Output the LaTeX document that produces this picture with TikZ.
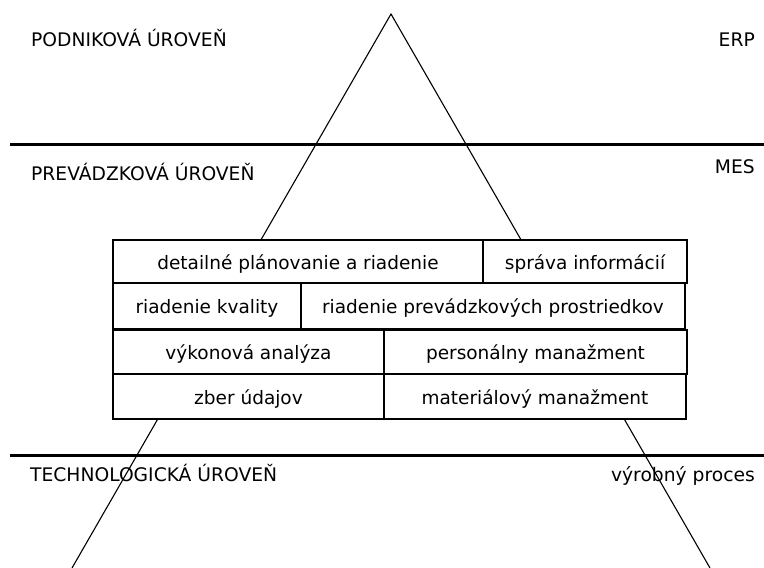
\documentclass[tikz,border=0pt]{standalone}
\usepackage{fontspec}
\setmainfont{DejaVu Sans}
\begin{document}
\begin{tikzpicture}[x=1pt,y=-1pt,
  lvl/.style={line width=3pt},
  tri/.style={line width=1.1pt},
  cell/.style={draw, line width=1.4pt, fill=white, inner sep=0pt, text height=15.5pt, text depth=0pt, font=\fontsize{18.5}{22}\selectfont},
  lbl/.style={inner sep=0pt, font=\fontsize{18.7}{22}\selectfont}]
\useasboundingbox (0,0) rectangle (764,568);
% level separators
\coordinate (l1a) at (10,144);
\coordinate (l1b) at (764,144);
\coordinate (l2a) at (10,455);
\coordinate (l2b) at (764,455);
\draw[lvl] (l1a) -- (l1b);
\draw[lvl] (l2a) -- (l2b);
% triangle
\coordinate (apex) at (391,14);
\coordinate (bl) at (72,568);
\coordinate (br) at (710,568);
\draw[tri] (bl) -- (apex) -- (br);
% cells
\node[cell, minimum width=370pt, minimum height=43pt] (c11) at (298,261.5) {detailné plánovanie a riadenie};
\node[cell, minimum width=204pt, minimum height=43pt] (c12) at (585,261.5) {správa informácií};
\node[cell, minimum width=188pt, minimum height=46pt] (c21) at (207,306) {riadenie kvality};
\node[cell, minimum width=384pt, minimum height=46pt] (c22) at (493,306) {riadenie prevádzkových prostriedkov};
\node[cell, minimum width=271pt, minimum height=44pt] (c31) at (248.5,352) {výkonová analýza};
\node[cell, minimum width=303pt, minimum height=44pt] (c32) at (535.5,352) {personálny manažment};
\node[cell, minimum width=271pt, minimum height=45pt] (c41) at (248.5,396.5) {zber údajov};
\node[cell, minimum width=302pt, minimum height=45pt] (c42) at (535,396.5) {materiálový manažment};
% level labels
\node[lbl, anchor=base west] (p1) at (31,46) {PODNIKOVÁ ÚROVEŇ};
\node[lbl, anchor=base east] (erp) at (755,46) {ERP};
\node[lbl, anchor=base west] (p2) at (31,180) {PREVÁDZKOVÁ ÚROVEŇ};
\node[lbl, anchor=base east] (mes) at (755,173) {MES};
\node[lbl, anchor=base west] (p3) at (30,481) {TECHNOLOGICKÁ ÚROVEŇ};
\node[lbl, anchor=base east] (vp) at (755,481) {výrobný proces};
\end{tikzpicture}
\end{document}
